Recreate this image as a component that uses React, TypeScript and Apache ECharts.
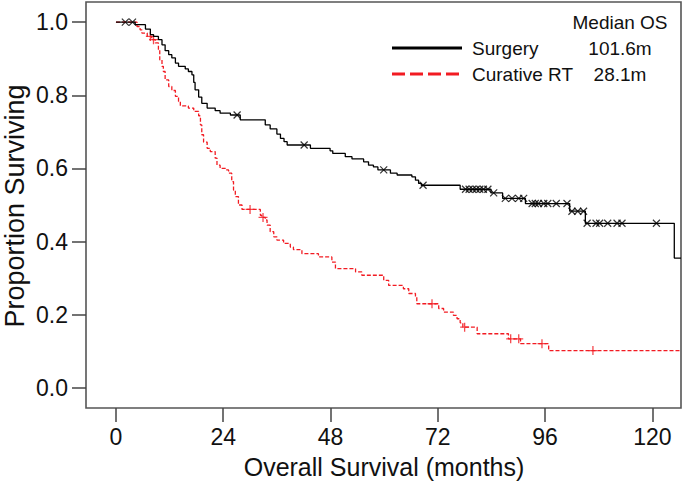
import React, { useEffect, useRef } from "react";
import * as echarts from "echarts";

// Kaplan-Meier step data (months, proportion surviving after the step)
const surgeryTime = [0, 4.3, 6.6, 7.7, 8.4, 9.5, 10.3, 11.0, 11.8, 12.5, 13.3, 14.0, 15.5, 16.2, 17.0, 17.4, 17.7, 18.5, 19.2, 20.4, 22.2, 23.3, 25.6, 27.8, 33.4, 34.5, 36.0, 36.8, 37.6, 38.3, 43.5, 47.9, 48.5, 51.3, 52.8, 55.4, 56.5, 57.6, 58.6, 61.4, 62.9, 66.2, 67.0, 67.7, 68.3, 77.0, 83.9, 86.5, 91.6, 101.5, 105.0, 124.9, 126.4];
const surgerySurv = [1.0, 0.993, 0.981, 0.966, 0.961, 0.952, 0.938, 0.922, 0.911, 0.902, 0.888, 0.879, 0.872, 0.865, 0.856, 0.835, 0.815, 0.795, 0.778, 0.765, 0.758, 0.751, 0.746, 0.733, 0.719, 0.708, 0.694, 0.682, 0.673, 0.664, 0.655, 0.648, 0.641, 0.632, 0.626, 0.618, 0.609, 0.604, 0.596, 0.587, 0.582, 0.577, 0.568, 0.559, 0.554, 0.543, 0.533, 0.518, 0.504, 0.483, 0.450, 0.355, 0.355];
const surgeryCensor = [2.1, 3.7, 27.1, 42.1, 59.9, 68.7, 78.2, 79.0, 79.8, 80.6, 81.4, 82.2, 83.2, 84.5, 87.1, 88.6, 90.1, 91.2, 93.1, 93.8, 94.5, 95.7, 96.6, 98.5, 100.9, 102.0, 103.3, 104.6, 105.4, 107.4, 108.2, 110.0, 112.1, 113.2, 120.9];

const rtTime = [0, 4.7, 5.4, 5.8, 7.0, 8.0, 8.8, 9.5, 9.8, 10.3, 10.6, 11.0, 11.8, 12.5, 13.3, 14.0, 14.4, 16.2, 17.4, 18.5, 18.9, 19.2, 19.6, 20.4, 21.1, 22.2, 22.6, 23.3, 24.5, 25.2, 25.9, 26.3, 26.7, 27.4, 28.2, 32.3, 32.6, 33.4, 33.8, 34.5, 35.3, 36.0, 37.5, 39.0, 39.7, 41.6, 45.3, 48.3, 49.1, 53.6, 55.0, 59.9, 61.0, 64.3, 65.5, 67.0, 67.3, 72.2, 73.3, 75.5, 76.3, 77.0, 77.6, 80.8, 87.8, 90.5, 96.8, 126.4];
const rtSurv = [1.0, 0.988, 0.979, 0.970, 0.961, 0.952, 0.943, 0.925, 0.897, 0.879, 0.865, 0.842, 0.824, 0.813, 0.797, 0.783, 0.771, 0.765, 0.756, 0.744, 0.719, 0.692, 0.672, 0.655, 0.646, 0.628, 0.609, 0.600, 0.596, 0.587, 0.564, 0.541, 0.523, 0.500, 0.488, 0.472, 0.466, 0.459, 0.445, 0.427, 0.413, 0.404, 0.395, 0.385, 0.378, 0.367, 0.358, 0.344, 0.326, 0.317, 0.308, 0.294, 0.280, 0.271, 0.258, 0.248, 0.230, 0.217, 0.207, 0.198, 0.189, 0.178, 0.166, 0.148, 0.134, 0.121, 0.102, 0.102];
const rtCensor = [7.7, 8.4, 30.0, 32.9, 70.7, 78.0, 88.3, 90.1, 95.3, 106.7];

const xTicks = [0, 24, 48, 72, 96, 120];
const yTicks = [0, 0.2, 0.4, 0.6, 0.8, 1.0];

const seriesNames = ["Surgery", "Curative RT"];
const medianLabels = ["101.6m", "28.1m"];

const FONT = "Liberation Sans, Arial, sans-serif";
const RED = "#f21b22";

function levelAt(times: number[], surv: number[], t: number) {
  let v = surv[0];
  for (let i = 0; i < times.length; i++) {
    if (times[i] <= t) v = surv[i];
  }
  return v;
}

export default function App() {
  const ref = useRef<HTMLDivElement>(null);
  useEffect(() => {
    if (!ref.current) return;
    const chart = echarts.init(ref.current, null, { renderer: "svg" });
    const xPlus = "path://M5,0L5,10M0,5L10,5";
    const xCross = "path://M0,0L10,10M10,0L0,10";
    chart.setOption({
      animation: false,
      backgroundColor: "#ffffff",
      grid: { left: 86, right: 4, top: 2, bottom: 83, show: true, borderColor: "#555", borderWidth: 1.6, backgroundColor: "transparent" },
      xAxis: {
        type: "value",
        min: -6.7,
        max: 126.4,
        axisLine: { show: false, onZero: false },
        splitLine: { show: false },
        axisTick: { show: true, inside: false, customValues: xTicks, length: 14, lineStyle: { color: "#444", width: 1.5 } },
        axisLabel: { customValues: xTicks, fontSize: 23, fontFamily: FONT, color: "#111", margin: 17 },
      },
      yAxis: {
        type: "value",
        min: -0.055,
        max: 1.055,
        axisLine: { show: false, onZero: false },
        splitLine: { show: false },
        axisTick: { show: true, inside: false, customValues: yTicks, length: 14, lineStyle: { color: "#444", width: 1.5 } },
        axisLabel: { customValues: yTicks, fontSize: 23, fontFamily: FONT, color: "#111", margin: 18, formatter: (v: number) => v.toFixed(1) },
      },
      series: [
        {
          name: seriesNames[1],
          type: "line",
          step: "end",
          symbol: "none",
          data: rtTime.map((t, i) => [t, rtSurv[i]]),
          lineStyle: { color: RED, width: 1.3, type: [4, 2] },
        },
        {
          name: seriesNames[0],
          type: "line",
          step: "end",
          symbol: "none",
          data: surgeryTime.map((t, i) => [t, surgerySurv[i]]),
          lineStyle: { color: "#000", width: 1.3 },
        },
        {
          type: "scatter",
          symbol: xPlus,
          symbolSize: 9,
          data: rtCensor.map((t) => [t, levelAt(rtTime, rtSurv, t)]),
          itemStyle: { color: "transparent", borderColor: RED, borderWidth: 1.3 },
        },
        {
          type: "scatter",
          symbol: xCross,
          symbolSize: 7,
          data: surgeryCensor.map((t) => [t, levelAt(surgeryTime, surgerySurv, t)]),
          itemStyle: { color: "transparent", borderColor: "#000", borderWidth: 1.2 },
        },
      ],
      graphic: [
        { type: "text", x: 15, y: 206, rotation: Math.PI / 2, style: { text: "Proportion Surviving", fontSize: 27, fontFamily: FONT, fill: "#111", textAlign: "center", textVerticalAlign: "middle" } },
        { type: "text", x: 384, y: 467, style: { text: "Overall Survival (months)", fontSize: 25, fontFamily: FONT, fill: "#111", textAlign: "center", textVerticalAlign: "middle" } },
        { type: "text", x: 620, y: 22, style: { text: "Median OS", fontSize: 19, fontFamily: FONT, fill: "#111", textAlign: "center", textVerticalAlign: "middle" } },
        { type: "line", shape: { x1: 392, y1: 48, x2: 462, y2: 48 }, style: { stroke: "#000", lineWidth: 3 } },
        { type: "line", shape: { x1: 392, y1: 74, x2: 462, y2: 74 }, style: { stroke: RED, lineWidth: 3, lineDash: [13, 5] } },
        { type: "text", x: 472, y: 48, style: { text: seriesNames[0], fontSize: 19, fontFamily: FONT, fill: "#111", textAlign: "left", textVerticalAlign: "middle" } },
        { type: "text", x: 472, y: 74, style: { text: seriesNames[1], fontSize: 19, fontFamily: FONT, fill: "#111", textAlign: "left", textVerticalAlign: "middle" } },
        { type: "text", x: 620, y: 48, style: { text: medianLabels[0], fontSize: 19, fontFamily: FONT, fill: "#111", textAlign: "center", textVerticalAlign: "middle" } },
        { type: "text", x: 620, y: 74, style: { text: medianLabels[1], fontSize: 19, fontFamily: FONT, fill: "#111", textAlign: "center", textVerticalAlign: "middle" } },
      ],
    });
    return () => chart.dispose();
  }, []);
  return <div ref={ref} style={{ position: "fixed", left: 0, top: 0, width: 685, height: 491, background: "#fff" }} />;
}
